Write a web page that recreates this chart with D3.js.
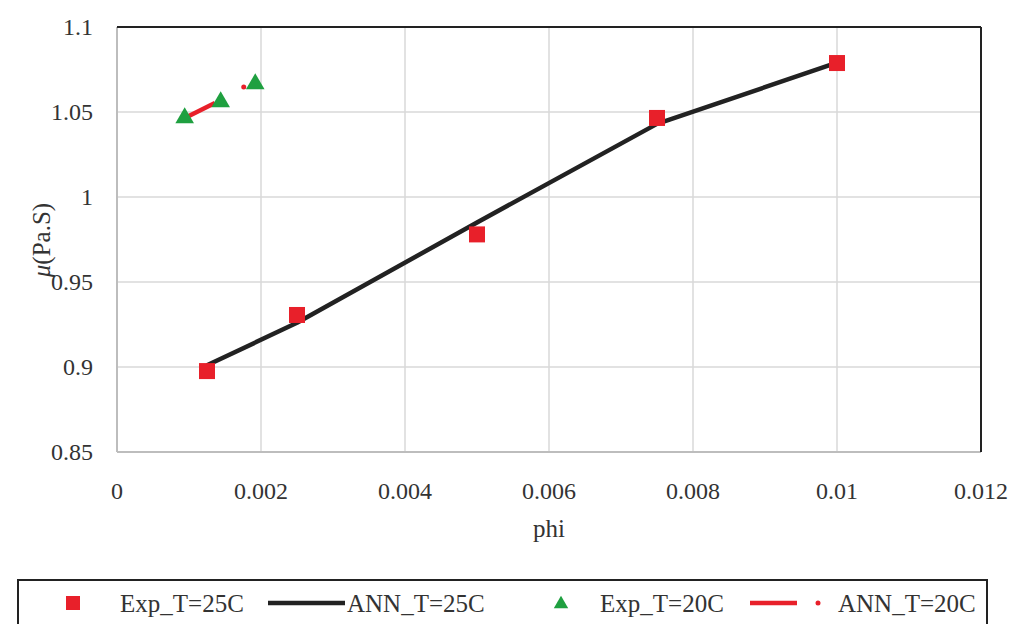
<!DOCTYPE html>
<html>
<head>
<meta charset="utf-8">
<script src="https://cdn.jsdelivr.net/npm/d3@7"></script>
<style>
  body { margin: 0; background: #fff; }
</style>
</head>
<body>
<svg width="1013" height="624"></svg>
<script>
// data
const exp25X = [0.00125, 0.0025, 0.005, 0.0075, 0.01];
const exp25Y = [0.8976, 0.9306, 0.978, 1.0465, 1.0788];
const ann25X = [0.00125, 0.0025, 0.005, 0.0075, 0.01];
const ann25Y = [0.901, 0.926, 0.985, 1.043, 1.079];
const exp20X = [0.00094, 0.00144, 0.00192];
const exp20Y = [1.0465, 1.0559, 1.0665];
const ann20X = [0.00097, 0.00136, null, 0.00176];
const ann20Y = [1.0471, 1.0553, null, 1.0647];
const xTicks = [0, 0.002, 0.004, 0.006, 0.008, 0.01, 0.012];
const yTicks = [0.85, 0.9, 0.95, 1, 1.05, 1.1];
const legendNames = ["Exp_T=25C", "ANN_T=25C", "Exp_T=20C", "ANN_T=20C"];

const svg = d3.select("svg");
const txt = "#333";
const font = "Liberation Serif";

const pL = 117, pR = 981, pT = 27, pB = 452;

const x = d3.scaleLinear().domain([0, 0.012]).range([pL, pR]);
const y = d3.scaleLinear().domain([0.85, 1.1]).range([pB, pT]);

// grid
svg.append("g")
  .selectAll("line")
  .data(xTicks.slice(1))
  .join("line")
  .attr("x1", d => x(d)).attr("x2", d => x(d))
  .attr("y1", pT).attr("y2", pB)
  .attr("stroke", "#d9d9d9").attr("stroke-width", 1.5);

svg.append("g")
  .selectAll("line")
  .data(yTicks.slice(1))
  .join("line")
  .attr("x1", pL).attr("x2", pR)
  .attr("y1", d => y(d)).attr("y2", d => y(d))
  .attr("stroke", "#d9d9d9").attr("stroke-width", 1.5);

// plot frame: grey axes left/bottom, dark top/right
svg.append("line").attr("x1", pL).attr("x2", pL).attr("y1", pT).attr("y2", pB)
  .attr("stroke", "#bdbdbd").attr("stroke-width", 2);
svg.append("line").attr("x1", pL).attr("x2", pR).attr("y1", pB).attr("y2", pB)
  .attr("stroke", "#bdbdbd").attr("stroke-width", 2);
svg.append("line").attr("x1", pL).attr("x2", pR).attr("y1", pT).attr("y2", pT)
  .attr("stroke", "#222").attr("stroke-width", 2);
svg.append("line").attr("x1", pR).attr("x2", pR).attr("y1", pT).attr("y2", pB)
  .attr("stroke", "#222").attr("stroke-width", 2);

// tick labels
svg.append("g")
  .selectAll("text")
  .data(xTicks)
  .join("text")
  .attr("x", d => x(d))
  .attr("y", 499)
  .attr("text-anchor", "middle")
  .attr("font-family", font)
  .attr("font-size", 24)
  .attr("fill", txt)
  .text(d => d3.format("~g")(d));

svg.append("g")
  .selectAll("text")
  .data(yTicks)
  .join("text")
  .attr("x", 93)
  .attr("y", d => y(d) + 8)
  .attr("text-anchor", "end")
  .attr("font-family", font)
  .attr("font-size", 24)
  .attr("fill", txt)
  .text(d => d3.format("~g")(d));

// axis titles
svg.append("text")
  .attr("x", x(0.006)).attr("y", 537)
  .attr("text-anchor", "middle")
  .attr("font-family", font)
  .attr("font-size", 25)
  .attr("fill", txt)
  .text("phi");

const yl = svg.append("text")
  .attr("transform", "translate(50,240) rotate(-90)")
  .attr("text-anchor", "middle")
  .attr("font-family", font)
  .attr("font-size", 25)
  .attr("fill", txt);
yl.append("tspan").attr("font-style", "italic").text("\u03BC");
yl.append("tspan").text("(Pa.S)");

// lines
const line = d3.line()
  .defined(d => d[0] != null)
  .x(d => x(d[0])).y(d => y(d[1]));

svg.append("path")
  .datum(d3.zip(ann25X, ann25Y))
  .attr("d", line)
  .attr("fill", "none")
  .attr("stroke", "#222")
  .attr("stroke-width", 4.5)
  .attr("stroke-linejoin", "round");

svg.append("path")
  .datum(d3.zip(ann20X, ann20Y))
  .attr("d", line)
  .attr("fill", "none")
  .attr("stroke", "#e8202a")
  .attr("stroke-width", 4.5);

// dot marker for the lone ANN_T=20C point
svg.append("g")
  .selectAll("circle")
  .data(d3.zip(ann20X, ann20Y).filter(d => d[0] != null).slice(2))
  .join("circle")
  .attr("cx", d => x(d[0])).attr("cy", d => y(d[1]))
  .attr("r", 2.5)
  .attr("fill", "#e8202a");

// square markers
svg.append("g")
  .selectAll("rect")
  .data(d3.zip(exp25X, exp25Y))
  .join("rect")
  .attr("x", d => x(d[0]) - 8).attr("y", d => y(d[1]) - 8)
  .attr("width", 16).attr("height", 16)
  .attr("fill", "#e8202a");

// triangle markers
const tri = d3.symbol().type(d3.symbolTriangle).size(150);
svg.append("g")
  .selectAll("path")
  .data(d3.zip(exp20X, exp20Y))
  .join("path")
  .attr("d", tri)
  .attr("transform", d => "translate(" + x(d[0]) + "," + y(d[1]) + ")")
  .attr("fill", "#1fa040");

// legend
const lg = svg.append("g");
lg.append("rect")
  .attr("x", 18).attr("y", 580)
  .attr("width", 969).attr("height", 60)
  .attr("fill", "#fff")
  .attr("stroke", "#222").attr("stroke-width", 2);

const ly = 603;
lg.append("rect").attr("x", 66).attr("y", ly - 7).attr("width", 14).attr("height", 14).attr("fill", "#e8202a");
lg.append("line").attr("x1", 268).attr("x2", 345).attr("y1", ly).attr("y2", ly)
  .attr("stroke", "#222").attr("stroke-width", 4.5);
lg.append("path").attr("d", d3.symbol().type(d3.symbolTriangle).size(90))
  .attr("transform", "translate(561," + (ly + 1) + ")").attr("fill", "#1fa040");
lg.append("line").attr("x1", 750).attr("x2", 797).attr("y1", ly).attr("y2", ly)
  .attr("stroke", "#e8202a").attr("stroke-width", 4.5);
lg.append("circle").attr("cx", 818).attr("cy", ly).attr("r", 2.5).attr("fill", "#e8202a");

const legendX = [120, 347, 600, 838];
lg.selectAll("text")
  .data(legendNames)
  .join("text")
  .attr("x", (d, i) => legendX[i])
  .attr("y", 612)
  .attr("font-family", font)
  .attr("font-size", 25)
  .attr("fill", txt)
  .text(d => d);
</script>
</body>
</html>
